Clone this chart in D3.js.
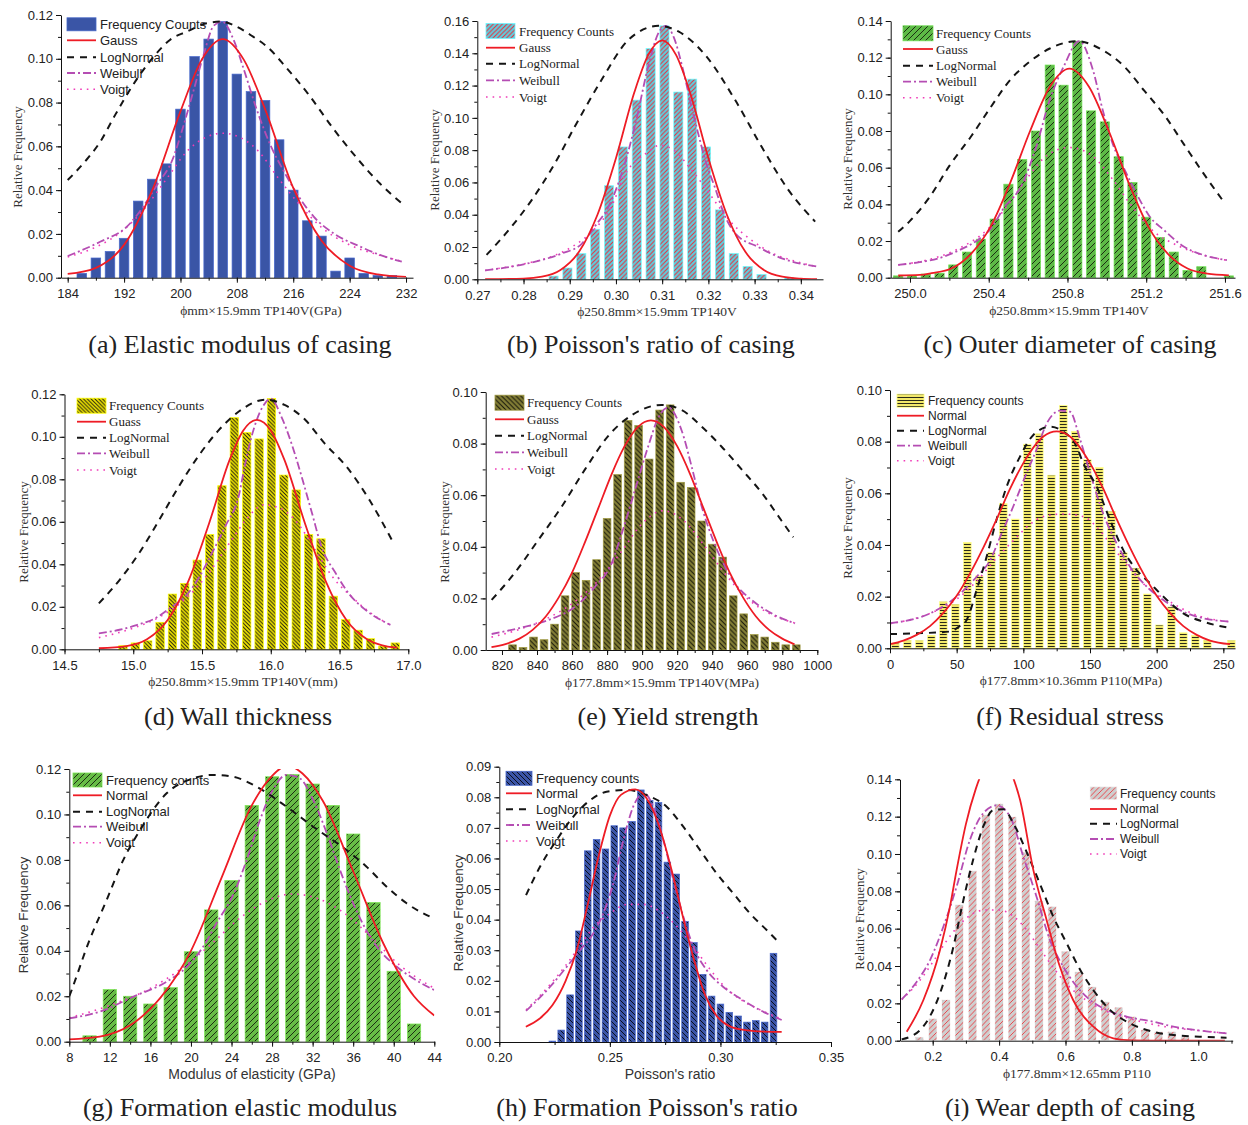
<!DOCTYPE html>
<html><head><meta charset="utf-8">
<script src="https://cdn.jsdelivr.net/npm/d3@7"></script>
<style>body{margin:0;background:#fff}</style>
</head><body><svg id="c" width="1248" height="1125"></svg>
<script>
// ---------------- DATA ----------------
const legA = ["Frequency Counts","Gauss","LogNormal","Weibull","Voigt"];
const legD = ["Frequency Counts","Guass","LogNormal","Weibull","Voigt"];
const legF = ["Frequency counts","Normal","LogNormal","Weibull","Voigt"];

// (a)
const aBinX = [186,188,190,192,194,196,198,200,202,204,206,208,210,212,214,216,218,220,222,224,226,228,230];
const aFreq = [0.002,0.009,0.012,0.018,0.035,0.045,0.052,0.077,0.101,0.109,0.117,0.093,0.085,0.081,0.063,0.040,0.026,0.019,0.003,0.009,0.002,0.001,0.001];
const aGauss = [[184,0.0017],[188,0.0045],[192,0.015],[196,0.040],[200,0.076],[203,0.0995],[206,0.109],[209,0.0995],[212,0.077],[216,0.041],[220,0.017],[224,0.0055],[228,0.0015],[232,0.0004]];
const aLogN = [[184,0.0446],[186.7,0.054],[188.6,0.062],[190.5,0.073],[192.1,0.082],[194.3,0.093],[196.6,0.1025],[198.5,0.1086],[200.9,0.1124],[203.7,0.1162],[205.8,0.117],[207.5,0.1154],[210.3,0.1101],[212.3,0.1055],[215,0.096],[218.1,0.084],[221.7,0.068],[225.2,0.054],[228.3,0.043],[231.4,0.034]];
const aWeib = [[184,0.0099],[188.6,0.0164],[192.4,0.0233],[194.7,0.0324],[196.6,0.042],[199,0.055],[200.2,0.067],[201.9,0.086],[203.3,0.102],[204.7,0.115],[205.9,0.117],[207.5,0.109],[208.9,0.096],[210.8,0.077],[212.7,0.061],[214.6,0.049],[216.5,0.0385],[218.9,0.0279],[221.7,0.0203],[225.5,0.0142],[228.3,0.0104],[231.4,0.0073]];
const aVoigt = [[184,0.0095],[188,0.014],[192,0.022],[195,0.032],[198,0.045],[201,0.058],[203.5,0.064],[206,0.066],[208.5,0.064],[211,0.058],[214,0.045],[217,0.033],[220,0.023],[224,0.015],[228,0.0105],[231.4,0.0075]];
const aXTicks = [184,192,200,208,216,224,232];
const aYTicks = [0,0.02,0.04,0.06,0.08,0.10,0.12];

// (b)
const bBinX = [0.2865,0.2895,0.2925,0.2955,0.2985,0.3015,0.3045,0.3075,0.3105,0.3135,0.3165,0.3195,0.3225,0.3255,0.3285,0.3315,0.3345,0.3375];
const bFreq = [0.002,0.007,0.016,0.031,0.058,0.082,0.111,0.143,0.157,0.116,0.124,0.082,0.043,0.016,0.008,0.003,0,0.001];
const bGauss = [[0.2717,0.0001],[0.280,0.0004],[0.284,0.0016],[0.288,0.0058],[0.292,0.017],[0.296,0.040],[0.300,0.075],[0.304,0.116],[0.307,0.139],[0.310,0.148],[0.313,0.139],[0.316,0.116],[0.320,0.075],[0.324,0.040],[0.328,0.017],[0.332,0.0058],[0.336,0.0016],[0.340,0.0004],[0.3435,0.0001]];
const bLogN = [[0.2720,0.0151],[0.2774,0.0326],[0.2818,0.0492],[0.2868,0.0719],[0.2911,0.0946],[0.2969,0.1236],[0.3027,0.1483],[0.3092,0.157],[0.3135,0.1535],[0.3193,0.139],[0.3258,0.111],[0.3315,0.0822],[0.3373,0.0554],[0.3431,0.0357]];
const bWeib = [[0.2717,0.0055],[0.276,0.0072],[0.280,0.0093],[0.284,0.012],[0.2883,0.016],[0.2926,0.022],[0.2955,0.033],[0.2984,0.045],[0.3013,0.066],[0.3041,0.095],[0.307,0.132],[0.3091,0.152],[0.3108,0.157],[0.3125,0.150],[0.3145,0.130],[0.3165,0.105],[0.318,0.088],[0.3193,0.074],[0.3214,0.057],[0.3236,0.039],[0.3258,0.0285],[0.3308,0.020],[0.3359,0.013],[0.3435,0.0079]];
const bVoigt = [[0.2717,0.0055],[0.280,0.0095],[0.286,0.014],[0.291,0.021],[0.295,0.030],[0.299,0.045],[0.302,0.065],[0.3065,0.078],[0.3095,0.083],[0.3125,0.080],[0.316,0.069],[0.319,0.058],[0.322,0.046],[0.325,0.035],[0.329,0.025],[0.334,0.016],[0.339,0.011],[0.3435,0.0078]];
const bXTicks = [0.27,0.28,0.29,0.30,0.31,0.32,0.33,0.34];
const bYTicks = [0,0.02,0.04,0.06,0.08,0.10,0.12,0.14,0.16];

// (c)
const cBinX = [249.94,250.01,250.08,250.15,250.22,250.29,250.36,250.43,250.50,250.57,250.64,250.71,250.78,250.85,250.92,250.99,251.06,251.13,251.20,251.27,251.34,251.41,251.48,251.55,251.62];
const cFreq = [0.001,0.001,0.002,0.0025,0.007,0.014,0.021,0.032,0.051,0.0645,0.080,0.116,0.105,0.129,0.091,0.085,0.066,0.052,0.033,0.022,0.014,0.004,0.006,0,0.001];
const cGauss = [[249.94,0.0012],[250.05,0.0015],[250.11,0.0025],[250.21,0.005],[250.31,0.013],[250.41,0.028],[250.51,0.052],[250.61,0.080],[250.71,0.104],[250.81,0.114],[250.91,0.104],[251.01,0.080],[251.11,0.052],[251.21,0.028],[251.31,0.013],[251.41,0.005],[251.51,0.0022],[251.62,0.0013]];
const cLogN = [[249.94,0.025],[250.0,0.031],[250.10,0.044],[250.20,0.061],[250.31,0.077],[250.41,0.093],[250.51,0.108],[250.61,0.118],[250.71,0.125],[250.85,0.129],[250.98,0.124],[251.09,0.115],[251.19,0.102],[251.29,0.089],[251.39,0.073],[251.49,0.057],[251.60,0.0405]];
const cWeib = [[249.94,0.007],[250.05,0.0085],[250.15,0.0107],[250.25,0.015],[250.35,0.021],[250.42,0.028],[250.47,0.037],[250.57,0.051],[250.64,0.071],[250.71,0.097],[250.78,0.115],[250.86,0.129],[250.93,0.113],[250.98,0.091],[251.03,0.073],[251.09,0.059],[251.15,0.046],[251.22,0.033],[251.29,0.026],[251.39,0.017],[251.49,0.0124],[251.61,0.0096]];
const cVoigt = [[249.94,0.007],[250.1,0.010],[250.25,0.016],[250.4,0.027],[250.5,0.040],[250.6,0.055],[250.7,0.067],[250.81,0.071],[250.92,0.067],[251.02,0.055],[251.12,0.040],[251.22,0.027],[251.37,0.017],[251.5,0.012],[251.61,0.0095]];
const cXTicks = [250.0,250.4,250.8,251.2,251.6];
const cYTicks = [0,0.02,0.04,0.06,0.08,0.10,0.12,0.14];

// (d)
const dBinX = [14.925,15.015,15.105,15.195,15.285,15.375,15.465,15.555,15.645,15.735,15.825,15.915,16.005,16.095,16.185,16.275,16.365,16.455,16.545,16.635,16.725,16.815,16.905];
const dFreq = [0.0017,0.003,0.004,0.0127,0.026,0.031,0.042,0.054,0.077,0.109,0.102,0.099,0.118,0.082,0.075,0.054,0.052,0.025,0.014,0.009,0.005,0.0015,0.003];
const dGauss = [[14.75,0.0005],[14.95,0.0015],[15.10,0.0047],[15.25,0.0138],[15.40,0.032],[15.55,0.059],[15.70,0.089],[15.80,0.103],[15.90,0.108],[16.00,0.103],[16.10,0.089],[16.25,0.059],[16.40,0.032],[16.55,0.0138],[16.70,0.0047],[16.85,0.0013],[16.92,0.0008]];
const dLogN = [[14.75,0.0216],[14.9,0.0326],[15.04,0.045],[15.19,0.061],[15.33,0.0765],[15.48,0.0915],[15.62,0.103],[15.77,0.112],[15.96,0.1175],[16.1,0.115],[16.25,0.108],[16.39,0.097],[16.55,0.086],[16.72,0.070],[16.88,0.0515]];
const dWeib = [[14.75,0.0075],[14.9,0.0092],[15.03,0.0115],[15.16,0.0146],[15.28,0.020],[15.38,0.025],[15.48,0.034],[15.57,0.045],[15.67,0.058],[15.77,0.073],[15.81,0.086],[15.86,0.100],[15.94,0.114],[16.0,0.118],[16.08,0.109],[16.15,0.097],[16.23,0.080],[16.3,0.064],[16.37,0.048],[16.47,0.036],[16.57,0.026],[16.69,0.0185],[16.87,0.0115]];
const dVoigt = [[14.75,0.0055],[15.0,0.010],[15.2,0.0155],[15.4,0.025],[15.55,0.036],[15.7,0.050],[15.82,0.061],[15.95,0.068],[16.08,0.066],[16.2,0.059],[16.32,0.047],[16.45,0.034],[16.6,0.024],[16.75,0.016],[16.87,0.0115]];
const dXTicks = [14.5,15.0,15.5,16.0,16.5,17.0];
const dYTicks = [0,0.02,0.04,0.06,0.08,0.10,0.12];

// (e)
const eBinX = [826,832,838,844,850,856,862,868,874,880,886,892,898,904,910,916,922,928,934,940,946,952,958,964,970,976,982,988];
const eFreq = [0.002,0.001,0.005,0.004,0.010,0.021,0.030,0.027,0.035,0.051,0.068,0.089,0.087,0.074,0.093,0.095,0.065,0.063,0.050,0.041,0.036,0.021,0.014,0.006,0.005,0.003,0.002,0.002];
const eGauss = [[814,0.0011],[822,0.0023],[830,0.0044],[837.5,0.0078],[845,0.013],[852.5,0.0205],[860,0.030],[867.5,0.042],[875,0.055],[882.5,0.068],[890,0.079],[897.5,0.0864],[905,0.089],[912.5,0.0864],[920,0.079],[927.5,0.068],[935,0.055],[942.5,0.042],[950,0.030],[957.5,0.0205],[965,0.013],[972.5,0.0078],[980,0.0044],[987,0.0022]];
const eLogN = [[814.1,0.0194],[827.4,0.030],[840.7,0.0426],[854.1,0.0556],[867.4,0.070],[880.7,0.083],[894,0.091],[911.2,0.095],[922.6,0.093],[934,0.0866],[945.4,0.0788],[956.8,0.070],[968.2,0.061],[979.7,0.050],[986.3,0.0437]];
const eWeib = [[814.1,0.0062],[830,0.0085],[846.5,0.0116],[861.7,0.0168],[873.1,0.0245],[882.6,0.0336],[888.3,0.045],[895.9,0.062],[903.5,0.079],[909.2,0.090],[915,0.094],[922.6,0.085],[928.3,0.071],[934,0.0556],[939.7,0.044],[945.4,0.0349],[953,0.0258],[962.5,0.0194],[973.9,0.0142],[987.3,0.0103]];
const eVoigt = [[814,0.005],[830,0.008],[845,0.012],[860,0.018],[875,0.027],[888,0.038],[900,0.049],[912,0.054],[924,0.050],[936,0.040],[948,0.029],[960,0.020],[973,0.014],[987,0.0105]];
const eXTicks = [820,840,860,880,900,920,940,960,980,1000];
const eYTicks = [0,0.02,0.04,0.06,0.08,0.10];

// (f)
const fBinX = [4,13,22,31,40,49,58,67,76,85,94,103,112,121,130,139,148,157,166,175,184,193,202,211,220,229,238,247,256];
const fFreq = [0.002,0.003,0.003,0.005,0.018,0.017,0.041,0.028,0.037,0.056,0.050,0.079,0.083,0.067,0.094,0.084,0.073,0.070,0.053,0.037,0.031,0.021,0.009,0.016,0.006,0.005,0.003,0,0.003];
const fGauss = [[0,0.0016],[10,0.003],[20,0.0052],[30,0.0086],[40,0.0137],[50,0.0203],[60,0.029],[70,0.039],[80,0.050],[90,0.0617],[100,0.0717],[115,0.082],[125,0.084],[135,0.082],[150,0.0717],[160,0.0617],[170,0.050],[180,0.039],[190,0.029],[200,0.0203],[210,0.0137],[220,0.0086],[230,0.0052],[240,0.003],[255,0.0016]];
const fLogN = [[0,0.0055],[20,0.0058],[45,0.0065],[52,0.0085],[57.5,0.011],[65,0.0226],[72.5,0.0355],[80,0.050],[87.5,0.0626],[97.5,0.0742],[107.5,0.0826],[120,0.0858],[130,0.0839],[140,0.078],[145,0.0716],[155,0.0626],[165,0.0497],[175,0.038],[185,0.0303],[195,0.0252],[205,0.020],[220,0.0135],[235,0.0103],[252.5,0.0081]];
const fWeib = [[0,0.0097],[30,0.0135],[50,0.020],[65,0.0277],[75,0.034],[82.5,0.043],[92.5,0.055],[102.5,0.068],[110,0.077],[117.5,0.087],[127.5,0.092],[135,0.0916],[142.5,0.081],[150,0.068],[160,0.052],[170,0.0406],[180,0.0316],[192.5,0.0239],[205,0.0187],[217.5,0.0148],[230,0.0123],[255,0.0103]];
const fVoigt = [[0,0.0095],[30,0.0135],[50,0.019],[65,0.026],[80,0.035],[95,0.043],[105,0.048],[115,0.051],[130,0.052],[145,0.051],[155,0.047],[165,0.0406],[175,0.034],[190,0.025],[210,0.018],[230,0.0128],[255,0.0103]];
const fXTicks = [0,50,100,150,200,250];
const fYTicks = [0,0.02,0.04,0.06,0.08,0.10];

// (g)
const gBinX = [10,12,14,16,18,20,22,24,26,28,30,32,34,36,38,40,42];
const gFreq = [0.0026,0.023,0.020,0.0166,0.0238,0.0396,0.058,0.071,0.104,0.1166,0.1176,0.1134,0.104,0.0914,0.0613,0.031,0.0078];
const gGauss = [[8,0.001],[11,0.0022],[14,0.0072],[17,0.0194],[20,0.040],[23,0.072],[26,0.104],[28,0.117],[29.5,0.1215],[31,0.118],[33,0.106],[36,0.075],[39,0.043],[42,0.020],[44,0.0115]];
const gLogN = [[8,0.020],[8.23,0.0227],[9.87,0.0433],[11.68,0.0623],[13.33,0.080],[14.97,0.0931],[17.6,0.1093],[20.23,0.1159],[22.2,0.1174],[24.17,0.1166],[26.15,0.113],[29.43,0.1034],[32.06,0.0946],[35.35,0.0843],[37.32,0.077],[39.3,0.0682],[41.27,0.0609],[44,0.0541]];
const gWeib = [[8,0.0103],[11,0.0132],[14.3,0.0198],[17.6,0.0264],[19.6,0.033],[21.2,0.0418],[22.5,0.052],[24.2,0.065],[25.5,0.080],[26.8,0.0975],[28.1,0.111],[29.4,0.1174],[30.7,0.116],[32.1,0.106],[33.4,0.0917],[34.7,0.0755],[36,0.0609],[37.3,0.049],[38.6,0.0403],[40.3,0.033],[41.9,0.0279],[44,0.0227]];
const gVoigt = [[8,0.0105],[12,0.016],[16,0.0235],[19,0.032],[22,0.043],[25,0.055],[27.5,0.062],[30,0.065],[32.5,0.063],[35,0.057],[38,0.045],[40.5,0.034],[42,0.029],[44,0.0235]];
const gXTicks = [8,12,16,20,24,28,32,36,40,44];
const gYTicks = [0,0.02,0.04,0.06,0.08,0.10,0.12];

// (h)
const hBinX = [0.224,0.228,0.232,0.236,0.240,0.244,0.248,0.252,0.256,0.260,0.264,0.268,0.272,0.276,0.280,0.284,0.288,0.292,0.296,0.300,0.304,0.308,0.312,0.316,0.320,0.324];
const hFreq = [0.0003,0.0039,0.0154,0.0363,0.0625,0.0662,0.0631,0.0707,0.070,0.0721,0.0824,0.079,0.0783,0.0588,0.0549,0.0394,0.0325,0.0221,0.015,0.0124,0.0097,0.0085,0.0065,0.007,0.0065,0.029];
const hGauss = [[0.212,0.005],[0.218,0.0075],[0.224,0.012],[0.230,0.020],[0.235,0.030],[0.240,0.045],[0.245,0.061],[0.250,0.074],[0.255,0.0808],[0.2615,0.0826],[0.268,0.078],[0.273,0.069],[0.278,0.056],[0.283,0.041],[0.288,0.027],[0.293,0.0155],[0.298,0.0088],[0.304,0.0052],[0.312,0.0038],[0.320,0.0034],[0.3277,0.0033]];
const hLogN = [[0.2121,0.048],[0.2184,0.0573],[0.2259,0.066],[0.2335,0.0737],[0.241,0.079],[0.2485,0.0818],[0.2576,0.0824],[0.2666,0.0807],[0.2757,0.0769],[0.2832,0.0704],[0.2907,0.0628],[0.2983,0.0551],[0.3058,0.0486],[0.3134,0.042],[0.3209,0.0366],[0.3269,0.0322]];
const hWeib = [[0.2121,0.0102],[0.2229,0.018],[0.2305,0.0246],[0.2365,0.030],[0.2425,0.0355],[0.247,0.042],[0.2516,0.052],[0.2561,0.066],[0.2606,0.077],[0.2654,0.0813],[0.2696,0.077],[0.2742,0.066],[0.2787,0.053],[0.2832,0.041],[0.2877,0.0312],[0.2938,0.0235],[0.3013,0.018],[0.3088,0.0143],[0.3164,0.011],[0.3277,0.0072]];
const hVoigt = [[0.2121,0.0105],[0.222,0.018],[0.23,0.025],[0.236,0.031],[0.242,0.037],[0.25,0.042],[0.258,0.045],[0.265,0.045],[0.272,0.043],[0.28,0.038],[0.287,0.032],[0.294,0.025],[0.302,0.018],[0.31,0.0135],[0.318,0.0105],[0.3277,0.0075]];
const hXTicks = [0.20,0.25,0.30,0.35];
const hYTicks = [0,0.01,0.02,0.03,0.04,0.05,0.06,0.07,0.08,0.09];

// (i)
const iBinX = [0.16,0.20,0.24,0.28,0.32,0.36,0.40,0.44,0.48,0.52,0.56,0.60,0.64,0.68,0.72,0.76,0.80,0.84,0.88,0.92,0.96];
const iFreq = [0.002,0.012,0.022,0.073,0.091,0.121,0.127,0.120,0.101,0.075,0.072,0.048,0.037,0.029,0.021,0.018,0.013,0.006,0.005,0.005,0.002];
const iGauss = [[0.1217,0.0048],[0.172,0.0218],[0.222,0.0486],[0.252,0.0718],[0.272,0.0914],[0.30,0.116],[0.33,0.135],[0.36,0.148],[0.39,0.153],[0.42,0.150],[0.44,0.142],[0.463,0.129],[0.503,0.0915],[0.543,0.0647],[0.583,0.0397],[0.623,0.0218],[0.684,0.0075],[0.744,0.0013],[0.80,0.0002],[0.90,0],[1.08,0]];
const iLogN = [[0.1066,0.0007],[0.162,0.0057],[0.222,0.0254],[0.262,0.050],[0.292,0.075],[0.322,0.097],[0.353,0.115],[0.383,0.1236],[0.413,0.124],[0.443,0.1164],[0.483,0.101],[0.523,0.084],[0.563,0.0665],[0.604,0.052],[0.644,0.038],[0.684,0.027],[0.734,0.0165],[0.794,0.0093],[0.864,0.0048],[0.925,0.003],[1.025,0.002],[1.085,0.0016]];
const iWeib = [[0.1066,0.0221],[0.152,0.0316],[0.192,0.0432],[0.232,0.061],[0.272,0.0825],[0.312,0.1075],[0.353,0.122],[0.393,0.126],[0.433,0.12],[0.473,0.0986],[0.513,0.077],[0.553,0.054],[0.593,0.0397],[0.634,0.029],[0.674,0.0218],[0.724,0.0165],[0.784,0.0129],[0.864,0.0102],[0.925,0.0075],[1.0,0.0055],[1.085,0.0039]];
const iVoigt = [[0.1066,0.022],[0.16,0.032],[0.2,0.042],[0.24,0.053],[0.28,0.062],[0.32,0.068],[0.36,0.070],[0.40,0.070],[0.44,0.067],[0.48,0.060],[0.52,0.050],[0.56,0.040],[0.60,0.031],[0.66,0.022],[0.72,0.016],[0.80,0.0115],[0.90,0.0075],[1.0,0.0055],[1.085,0.004]];
const iXTicks = [0.2,0.4,0.6,0.8,1.0];
const iYTicks = [0,0.02,0.04,0.06,0.08,0.10,0.12,0.14];

// ---------------- DRAWING ----------------
const SANS = "'Liberation Sans', Arial, sans-serif";
const SERIF = "'Liberation Serif', 'Times New Roman', serif";
const COL = {gauss:'#ee1c25', logn:'#151515', weib:'#b54db3', voigt:'#f03cb8'};
const svg = d3.select('#c');
const defs = svg.append('defs');

function makePattern(id, fill, ink, kind, s, w) {
  const p = defs.append('pattern').attr('id', id).attr('patternUnits','userSpaceOnUse')
    .attr('width', s).attr('height', s);
  p.append('rect').attr('width', s).attr('height', s).attr('fill', fill);
  let d = null;
  if (kind === '/') d = `M0,${s} l${s},${-s} M${-s/4},${s/4} l${s/2},${-s/2} M${3*s/4},${5*s/4} l${s/2},${-s/2}`;
  if (kind === '\\') d = `M0,0 l${s},${s} M${-s/4},${3*s/4} l${s/2},${s/2} M${3*s/4},${-s/4} l${s/2},${s/2}`;
  if (kind === '-') d = `M0,${s/2} h${s}`;
  if (d) p.append('path').attr('d', d).attr('stroke', ink).attr('stroke-width', w).attr('fill','none');
}

function panel(p) {
  const g = svg.append('g');
  const x = d3.scaleLinear().domain(p.xd).range([p.x0, p.x1]);
  const y = d3.scaleLinear().domain([0, p.ymax]).range([p.yb, p.yt]);
  makePattern('pat-' + p.id, p.fill, p.ink, p.kind, p.s, p.w);
  const clipId = 'clip-' + p.id;
  defs.append('clipPath').attr('id', clipId).append('rect')
    .attr('x', p.x0).attr('y', p.yt).attr('width', p.x1 - p.x0).attr('height', p.yb - p.yt);

  // legend
  const lf = p.lsans ? SANS : SERIF;
  const styles = [null,
    {c:COL.gauss, w:1.8, da:null},
    {c:COL.logn, w:2, da:'7,6'},
    {c:COL.weib, w:1.8, da:'8,3,2,3'},
    {c:COL.voigt, w:1.6, da:'1.6,5'}];
  p.leg.forEach((t, i) => {
    const yy = p.ly[i];
    if (i === 0) {
      g.append('rect').attr('x', p.lx0).attr('y', yy - p.lh/2).attr('width', p.lx1 - p.lx0).attr('height', p.lh)
        .attr('fill', `url(#pat-${p.id})`).attr('stroke', d3.color(p.fill).brighter(0.5)).attr('stroke-width', 0.8);
    } else {
      const st = styles[i];
      g.append('line').attr('x1', p.lx0).attr('x2', p.lx1).attr('y1', yy).attr('y2', yy)
        .attr('stroke', st.c).attr('stroke-width', st.w).attr('stroke-dasharray', st.da);
    }
    g.append('text').attr('x', p.tx).attr('y', yy).attr('dy', '0.35em').text(t)
      .attr('font-family', lf).attr('font-size', p.lfs).attr('fill', '#222');
  });

  // bars
  const bw = Math.abs(x(p.bx[1]) - x(p.bx[0])) * p.bwf;
  g.append('g').selectAll('rect').data(p.bx.map((v, i) => [v, p.by[i]])).join('rect')
    .attr('x', d => x(d[0]) - bw/2).attr('y', d => y(d[1]))
    .attr('width', bw).attr('height', d => y(0) - y(d[1]))
    .attr('fill', `url(#pat-${p.id})`)
    .attr('stroke', d => d[1] > 0 ? d3.color(p.fill).brighter(0.6) : 'none').attr('stroke-width', 0.7);

  // curves
  const line = d3.line().x(d => x(d[0])).y(d => y(d[1])).curve(d3.curveMonotoneX);
  const cg = g.append('g').attr('clip-path', `url(#${clipId})`);
  [[p.voigt, styles[4]], [p.weib, styles[3]], [p.logn, styles[2]], [p.gauss, styles[1]]].forEach(([data, st]) => {
    cg.append('path').attr('d', line(data)).attr('fill', 'none')
      .attr('stroke', st.c).attr('stroke-width', st.w).attr('stroke-dasharray', st.da);
  });

  // axes
  const minorX = d3.range(p.xt[0], p.xd[1] + 1e-9, p.xm).filter(v => v >= p.xd[0] - 1e-9);
  const minorY = d3.range(0, p.ymax + 1e-9, p.ym);
  const gxm = g.append('g').attr('transform', `translate(0,${p.yb})`)
    .call(d3.axisBottom(x).tickValues(minorX).tickSize(3).tickFormat(''));
  gxm.select('.domain').remove();
  const gym = g.append('g').attr('transform', `translate(${p.x0},0)`)
    .call(d3.axisLeft(y).tickValues(minorY).tickSize(3).tickFormat(''));
  gym.select('.domain').remove();
  const gx = g.append('g').attr('transform', `translate(0,${p.yb})`)
    .call(d3.axisBottom(x).tickValues(p.xt).tickFormat(d3.format(p.xf)).tickSize(5).tickPadding(6).tickSizeOuter(0));
  const gy = g.append('g').attr('transform', `translate(${p.x0},0)`)
    .call(d3.axisLeft(y).tickValues(p.yticks).tickFormat(d3.format('.2f')).tickSize(5).tickPadding(3).tickSizeOuter(0));
  [gx, gy, gxm, gym].forEach(a => {
    a.selectAll('text').attr('font-family', SANS).attr('font-size', 13).attr('fill', '#222');
    a.selectAll('line,path').attr('stroke', '#111').attr('stroke-width', 1);
  });

  // titles
  const tf = p.tsans ? SANS : SERIF;
  g.append('text').attr('x', p.xtx).attr('y', p.yb + 37).attr('text-anchor', 'middle')
    .attr('font-family', tf).attr('font-size', p.tsans ? 14 : 13.5).attr('fill', '#333').text(p.xtitle);
  g.append('text').attr('transform', `translate(${p.ytx},${p.yty}) rotate(-90)`).attr('dy', '0.35em')
    .attr('text-anchor', 'middle').attr('font-family', tf).attr('font-size', p.tsans ? 13.5 : 13).attr('fill', '#333')
    .text('Relative Frequency');
  g.append('text').attr('x', p.capx).attr('y', p.capy).attr('text-anchor', 'middle')
    .attr('font-family', SERIF).attr('font-size', 26).attr('fill', '#222').text(p.cap);
}

const panels = [
 {id:'a', x0:61, x1:413, xd:[183.05,232.99], yt:15, yb:277.7, ymax:0.12, xt:aXTicks, xm:4, xf:'d', yticks:aYTicks, ym:0.01,
  bx:aBinX, by:aFreq, bwf:0.68, gauss:aGauss, logn:aLogN, weib:aWeib, voigt:aVoigt,
  fill:'#3a55a6', ink:null, kind:null, s:4, w:1,
  leg:legA, lsans:true, lfs:13, lx0:67, lx1:96, lh:13, tx:100, ly:[24.3,40.3,57.3,73,89.3],
  tsans:false, xtitle:'ϕmm×15.9mm TP140V(GPa)', xtx:261, ytx:17, yty:157, cap:'(a) Elastic modulus of casing', capx:240, capy:353},
 {id:'b', x0:477.3, x1:823, xd:[0.27,0.3448], yt:21, yb:279.3, ymax:0.16, xt:bXTicks, xm:0.005, xf:'.2f', yticks:bYTicks, ym:0.01,
  bx:bBinX, by:bFreq, bwf:0.66, gauss:bGauss, logn:bLogN, weib:bWeib, voigt:bVoigt,
  fill:'#5ccfe0', ink:'#ec2f3a', kind:'/', s:4.5, w:1.1,
  leg:legA, lsans:false, lfs:13, lx0:486, lx1:515, lh:15, tx:519, ly:[31,47.7,63.7,80.3,97],
  tsans:false, xtitle:'ϕ250.8mm×15.9mm TP140V', xtx:657, ytx:434, yty:160, cap:"(b) Poisson's ratio of casing", capx:651, capy:353},
 {id:'c', x0:890.7, x1:1235, xd:[249.902,251.651], yt:21, yb:277.7, ymax:0.14, xt:cXTicks, xm:0.2, xf:'.1f', yticks:cYTicks, ym:0.01,
  bx:cBinX, by:cFreq, bwf:0.67, gauss:cGauss, logn:cLogN, weib:cWeib, voigt:cVoigt,
  fill:'#5db946', ink:'#1b2e12', kind:'/', s:6, w:1,
  leg:legA, lsans:false, lfs:13, lx0:903, lx1:933, lh:15, tx:936, ly:[33.3,49,65.7,81.7,97.7],
  tsans:false, xtitle:'ϕ250.8mm×15.9mm TP140V', xtx:1069, ytx:847, yty:159, cap:'(c) Outer diameter of casing', capx:1070, capy:353},
 {id:'d', x0:64.5, x1:408.3, xd:[14.5,17.0], yt:394.3, yb:649.3, ymax:0.12, xt:dXTicks, xm:0.25, xf:'.1f', yticks:dYTicks, ym:0.01,
  bx:dBinX, by:dFreq, bwf:0.68, gauss:dGauss, logn:dLogN, weib:dWeib, voigt:dVoigt,
  fill:'#f6ea00', ink:'#1a1a10', kind:'\\', s:3.8, w:1.0,
  leg:legD, lsans:false, lfs:13, lx0:77, lx1:106, lh:15, tx:109, ly:[405.7,421.7,437.7,453.3,470],
  tsans:false, xtitle:'ϕ250.8mm×15.9mm TP140V(mm)', xtx:243, ytx:23, yty:532, cap:'(d) Wall thickness', capx:238, capy:725},
 {id:'e', x0:485.7, x1:817.3, xd:[810.7,1000], yt:392, yb:650, ymax:0.10, xt:eXTicks, xm:10, xf:'d', yticks:eYTicks, ym:0.01,
  bx:eBinX, by:eFreq, bwf:0.73, gauss:eGauss, logn:eLogN, weib:eWeib, voigt:eVoigt,
  fill:'#847f36', ink:'#15150a', kind:'\\', s:4.8, w:1,
  leg:legA, lsans:false, lfs:13, lx0:495, lx1:524, lh:15, tx:527, ly:[402.7,419.3,435.7,452.3,469],
  tsans:false, xtitle:'ϕ177.8mm×15.9mm TP140V(MPa)', xtx:662, ytx:444, yty:532, cap:'(e) Yield strength', capx:668, capy:725},
 {id:'f', x0:890, x1:1235, xd:[0,258.75], yt:390, yb:648.3, ymax:0.10, xt:fXTicks, xm:25, xf:'d', yticks:fYTicks, ym:0.01,
  bx:fBinX, by:fFreq, bwf:0.63, gauss:fGauss, logn:fLogN, weib:fWeib, voigt:fVoigt,
  fill:'#f2e86a', ink:'#2a2a1a', kind:'-', s:3, w:1,
  leg:legF, lsans:true, lfs:12, lx0:897, lx1:924, lh:13, tx:928, ly:[400.7,415.7,430.7,445.7,460.7],
  tsans:false, xtitle:'ϕ177.8mm×10.36mm P110(MPa)', xtx:1071, ytx:847, yty:528, cap:'(f) Residual stress', capx:1070, capy:725},
 {id:'g', x0:69.3, x1:434.3, xd:[8,44], yt:769, yb:1041.7, ymax:0.12, xt:gXTicks, xm:2, xf:'d', yticks:gYTicks, ym:0.01,
  bx:gBinX, by:gFreq, bwf:0.66, gauss:gGauss, logn:gLogN, weib:gWeib, voigt:gVoigt,
  fill:'#67bc46', ink:'#1b2e12', kind:'/', s:6, w:1,
  leg:legF, lsans:true, lfs:13, lx0:73, lx1:102, lh:14, tx:106, ly:[780,795.3,811.7,826.7,842.7],
  tsans:true, xtitle:'Modulus of elasticity (GPa)', xtx:252, ytx:23, yty:915, cap:'(g) Formation elastic modulus', capx:240, capy:1116},
 {id:'h', x0:499.3, x1:831, xd:[0.20,0.35], yt:766.7, yb:1042, ymax:0.09, xt:hXTicks, xm:0.025, xf:'.2f', yticks:hYTicks, ym:0.005,
  bx:hBinX, by:hFreq, bwf:0.75, gauss:hGauss, logn:hLogN, weib:hWeib, voigt:hVoigt,
  fill:'#3b55a7', ink:'#0c0f1c', kind:'\\', s:5, w:1,
  leg:legF, lsans:true, lfs:13, lx0:506, lx1:532, lh:14, tx:536, ly:[778.3,793.3,809.3,825,841],
  tsans:true, xtitle:"Poisson's ratio", xtx:670, ytx:458, yty:913, cap:"(h) Formation Poisson's ratio", capx:647, capy:1116},
 {id:'i', x0:900, x1:1232.7, xd:[0.1015,1.1036], yt:779.3, yb:1040.7, ymax:0.14, xt:iXTicks, xm:0.1, xf:'.1f', yticks:iYTicks, ym:0.01,
  bx:iBinX, by:iFreq, bwf:0.65, gauss:iGauss, logn:iLogN, weib:iWeib, voigt:iVoigt,
  fill:'#cfcfcf', ink:'#ec3a40', kind:'/', s:5.5, w:0.9,
  leg:legF, lsans:true, lfs:12, lx0:1090, lx1:1117, lh:13, tx:1120, ly:[793.3,809,823.7,839,854],
  tsans:false, xtitle:'ϕ177.8mm×12.65mm P110', xtx:1077, ytx:859, yty:919, cap:'(i) Wear depth of casing', capx:1070, capy:1116}
];
panels.forEach(panel);
</script></body></html>
